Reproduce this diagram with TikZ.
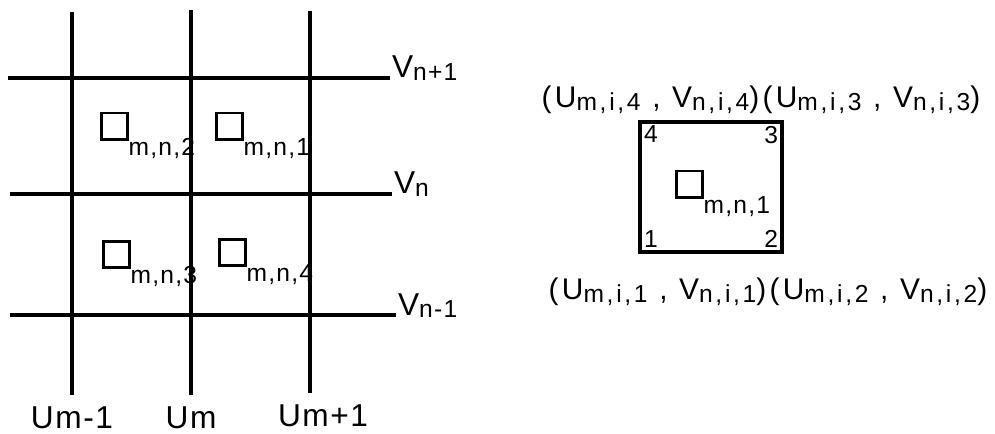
\documentclass[tikz,border=0pt]{standalone}
\usepackage{fontspec}
\setmainfont[LetterSpace=5]{Liberation Sans}
\newfontfamily\pairfont[LetterSpace=11]{Liberation Sans}
\usetikzlibrary{positioning}

\newcommand{\lsub}[1]{\raisebox{-1.6pt}{\fontsize{14}{16}\selectfont #1}}
\newcommand{\cellsq}{\raisebox{0.3cm}{\setlength{\fboxrule}{1.7pt}\setlength{\fboxsep}{0pt}\fbox{\rule{0pt}{0.47cm}\hspace{0.45cm}}}}

\tikzstyle{grid} = [line width=2.2pt]
\tikzstyle{lbl} = [inner sep=1pt, font=\fontsize{18}{21}\selectfont]
\tikzstyle{num} = [inner sep=3pt, font=\fontsize{14}{16}\selectfont]
\tikzstyle{pair} = [inner sep=1pt, font=\pairfont\fontsize{17}{20}\selectfont]

\begin{document}
\begin{tikzpicture}
\useasboundingbox (0,0) rectangle (19.9,8.66);
% vertical lines
\coordinate (u1t) at (1.44,8.42);
\coordinate (u1b) at (1.44,0.76);
\coordinate (u2t) at (3.82,8.46);
\coordinate (u2b) at (3.82,0.76);
\coordinate (u3t) at (6.2,8.44);
\coordinate (u3b) at (6.2,0.8);
\draw[grid] (u1t) -- (u1b);
\draw[grid] (u2t) -- (u2b);
\draw[grid] (u3t) -- (u3b);
% horizontal lines
\coordinate (v1l) at (0.16,7.1);
\coordinate (v1r) at (7.8,7.1);
\coordinate (v2l) at (0.2,4.78);
\coordinate (v2r) at (7.84,4.78);
\coordinate (v3l) at (0.2,2.36);
\coordinate (v3r) at (7.92,2.36);
\draw[grid] (v1l) -- (v1r);
\draw[grid] (v2l) -- (v2r);
\draw[grid] (v3l) -- (v3r);
\node[lbl, anchor=base west] (vnp) at (v1r) {V\lsub{n+1}};
\node[lbl, anchor=base west] (vn) at (v2r) {V\lsub{n}};
\node[lbl, anchor=base west] (vnm) at (v3r) {V\lsub{n-1}};
\node[lbl, below=0.2cm of u1b] (umm) {Um-1};
\node[lbl, below=0.2cm of u2b] (um) {Um};
\node[lbl, below=0.2cm of u3b, xshift=0.26cm] (ump) {Um+1};
% cell labels
\node[lbl, anchor=base west] (c2) at (1.96,5.6) {\cellsq\lsub{m,n,2}};
\node[lbl, anchor=base west] (c1) at (4.26,5.6) {\cellsq\lsub{m,n,1}};
\node[lbl, anchor=base west] (c3) at (2.0,3.04) {\cellsq\lsub{m,n,3}};
\node[lbl, anchor=base west] (c4) at (4.32,3.08) {\cellsq\lsub{m,n,4}};
% one cell with its corners
\node[draw, line width=1.8pt, minimum width=2.84cm, minimum height=2.6cm] (cell) at (14.22,4.92) {};
\node[num, anchor=north west] (k4) at (cell.north west) {4};
\node[num, anchor=north east] (k3) at (cell.north east) {3};
\node[num, anchor=south west] (k1) at (cell.south west) {1};
\node[num, anchor=south east] (k2) at (cell.south east) {2};
\node[lbl, anchor=base west] (ci) at (13.46,4.44) {\cellsq\lsub{m,n,1}};
\node[pair, anchor=base] (top) at (15.22,6.5) {(U\lsub{m,i,4} , V\lsub{n,i,4})(U\lsub{m,i,3} , V\lsub{n,i,3})};
\node[pair, anchor=base] (bot) at (15.36,2.66) {(U\lsub{m,i,1} , V\lsub{n,i,1})(U\lsub{m,i,2} , V\lsub{n,i,2})};
\end{tikzpicture}
\end{document}
